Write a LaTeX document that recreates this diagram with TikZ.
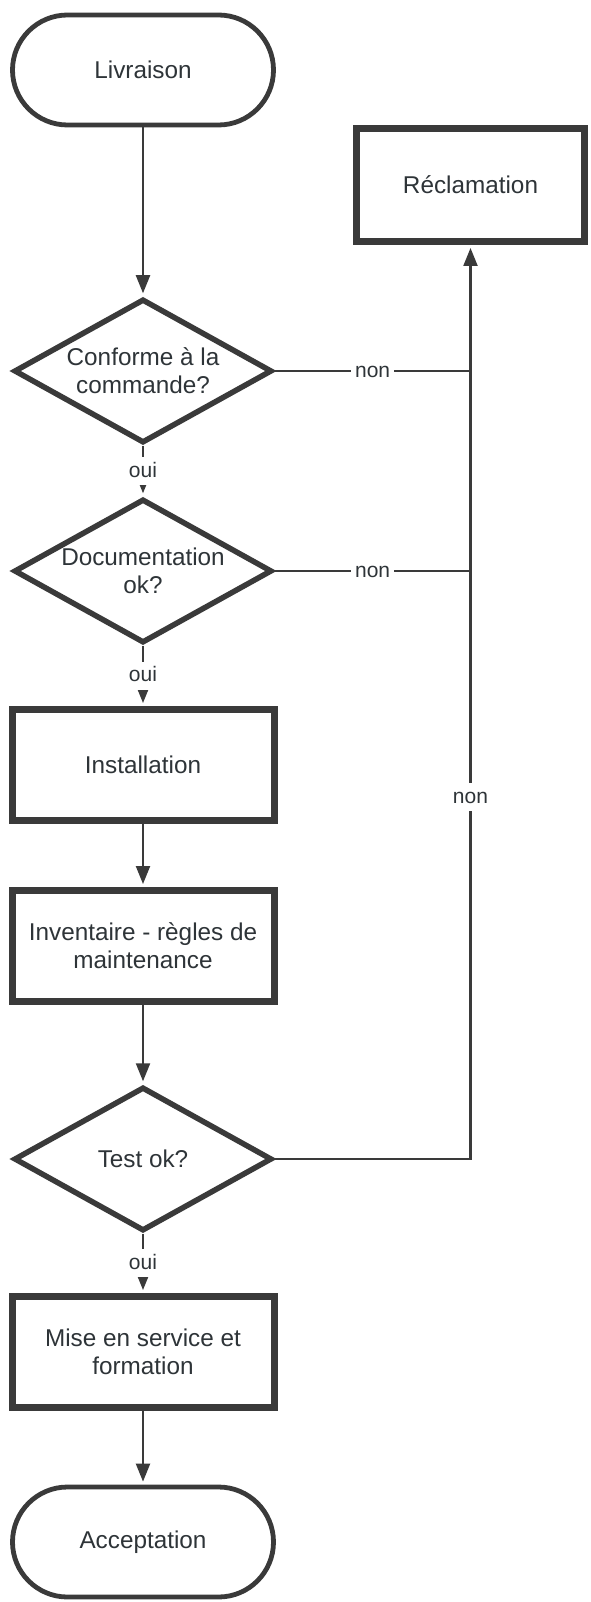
\documentclass[tikz,border=0pt]{standalone}
\usepackage{fontspec}
\setmainfont{Liberation Sans}
\usetikzlibrary{shapes.geometric,shapes.misc,arrows.meta}
\definecolor{ink}{HTML}{3A3A3A}
\definecolor{txt}{HTML}{2E3438}
\begin{document}
\begin{tikzpicture}[x=1pt,y=-1pt,
  every node/.style={text=txt, font=\fontsize{24.3}{28}\selectfont, align=center},
  terminal/.style={draw=ink, line width=4.8pt, rounded rectangle, minimum width=261pt, minimum height=110pt, inner sep=0pt},
  process/.style={draw=ink, line width=7pt, rectangle, minimum width=262pt, minimum height=111pt, inner sep=0pt},
  decision/.style={draw=ink, line width=5.5pt, diamond, aspect=1.76, minimum width=258pt, minimum height=144pt, inner sep=0pt},
  flow/.style={draw=ink, line width=2.2pt, -{Triangle[width=14pt,length=18pt]}, shorten >=3pt},
  link/.style={draw=ink, line width=2.2pt},
  lbl/.style={fill=white, font=\fontsize{21}{25}\selectfont, inner xsep=4pt, inner ysep=5pt, text height=15pt, text depth=3pt}
]
% page area
\fill[white] (0,0) rectangle (590,1602);
\useasboundingbox (0,0) rectangle (590,1602);

% main column
\node[terminal] (liv) at (143,70) {Livraison};
\node[decision] (d1) at (143,371) {Conforme à la\\commande?};
\node[decision] (d2) at (143,571) {Documentation\\ok?};
\node[process] (inst) at (143,765) {Installation};
\node[process] (inv) at (143,946) {Inventaire - règles de\\maintenance};
\node[decision] (d3) at (143,1159) {Test ok?};
\node[process] (mise) at (143,1352) {Mise en service et\\formation};
\node[terminal] (acc) at (143,1542) {Acceptation};

% claim box on the right
\node[process, minimum width=228pt, minimum height=113pt] (recl) at (470.5,185) {Réclamation};

% main flow
\draw[flow] (liv.south) -- (d1.north);
\draw[flow] (d1.south) -- node[lbl]{oui} (d2.north);
\draw[flow] (d2.south) -- node[lbl]{oui} (inst.north);
\draw[flow] (inst.south) -- (inv.north);
\draw[flow] (inv.south) -- (d3.north);
\draw[flow] (d3.south) -- node[lbl]{oui} (mise.north);
\draw[flow] (mise.south) -- (acc.north);

% rejection branches
\coordinate (j1) at (recl.south |- d1.east);
\coordinate (j2) at (recl.south |- d2.east);
\draw[link] (d1.east) -- node[lbl]{non} (j1);
\draw[link] (d2.east) -- node[lbl]{non} (j2);
\draw[flow] (d3.east) -| node[lbl, pos=0.698]{non} (recl.south);
\end{tikzpicture}
\end{document}
